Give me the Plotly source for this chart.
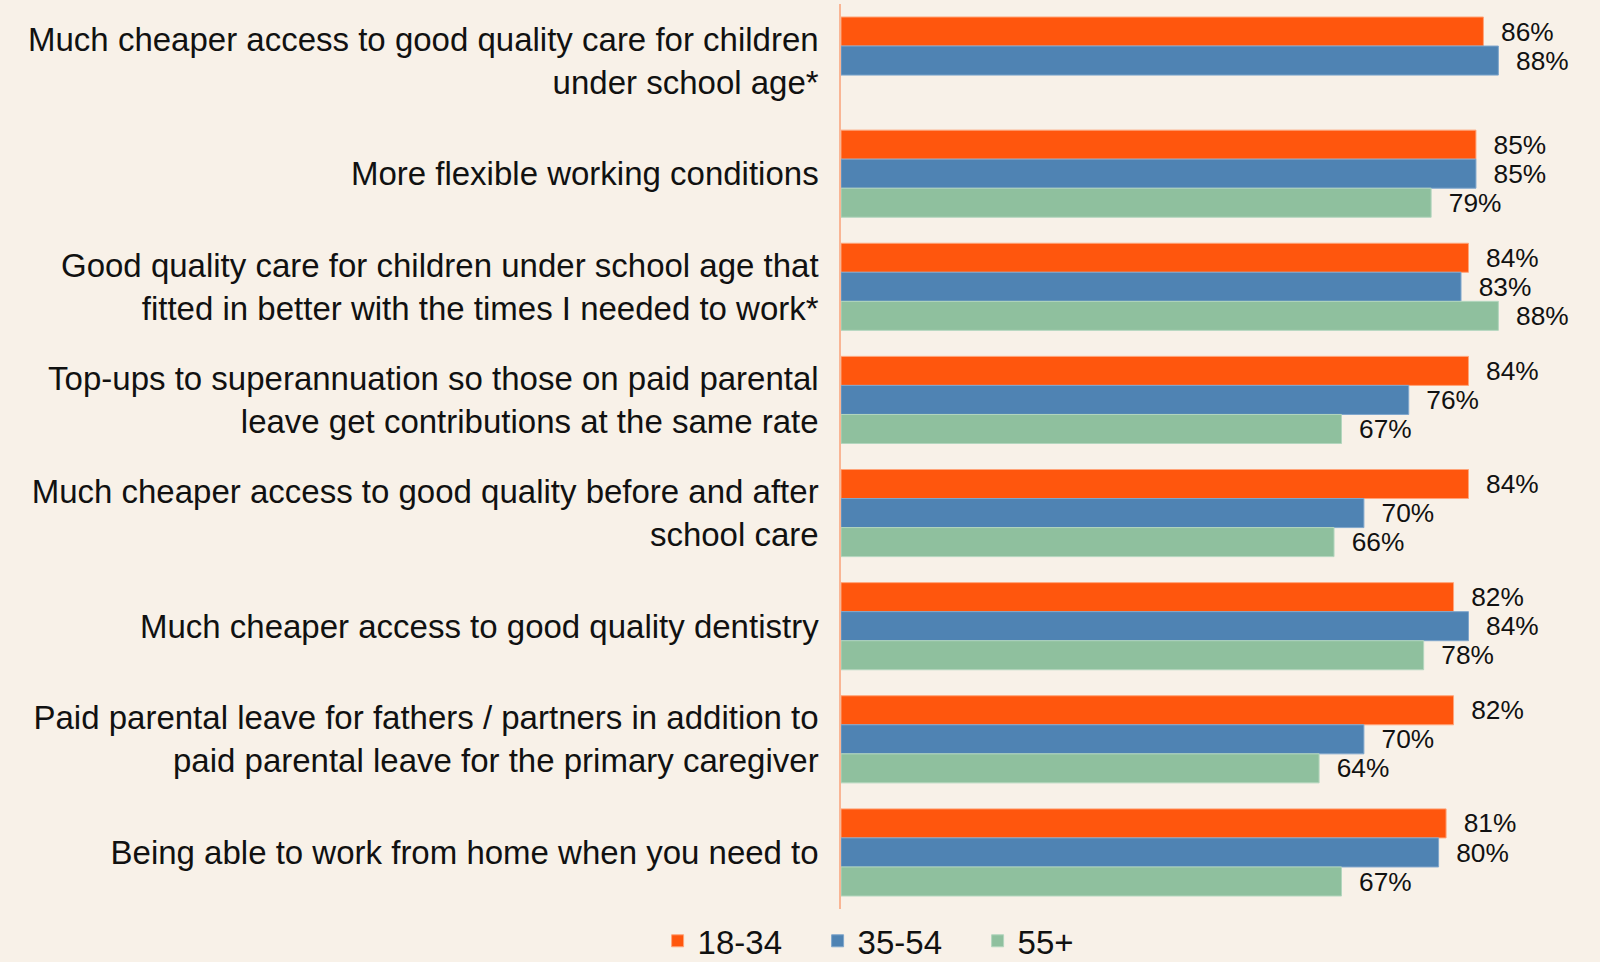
import plotly.graph_objects as go

categories = [
    "Much cheaper access to good quality care for children<br>under school age*",
    "More flexible working conditions",
    "Good quality care for children under school age that<br>fitted in better with the times I needed to work*",
    "Top-ups to superannuation so those on paid parental<br>leave get contributions at the same rate",
    "Much cheaper access to good quality before and after<br>school care",
    "Much cheaper access to good quality dentistry",
    "Paid parental leave for fathers / partners in addition to<br>paid parental leave for the primary caregiver",
    "Being able to work from home when you need to",
]
series_names = ["18-34", "35-54", "55+"]
v_18_34 = [86, 85, 84, 84, 84, 82, 82, 81]
v_35_54 = [88, 85, 83, 76, 70, 84, 70, 80]
v_55p = [None, 79, 88, 67, 66, 78, 64, 67]
values = [v_18_34, v_35_54, v_55p]
colors = ["#FF560D", "#4F83B3", "#8FC09E"]
line_colors = ["#FFA479", "#7FA6CC", "#B3D6BE"]

FONT = "Liberation Sans, Arial, sans-serif"

fig = go.Figure()
for name, vals, c, lc in zip(series_names, values, colors, line_colors):
    fig.add_trace(go.Bar(
        y=categories, x=vals, name=name, orientation="h",
        marker=dict(color=c, line=dict(color=lc, width=1)),
        text=[None if v is None else f"  {v}%" for v in vals],
        textposition="outside", cliponaxis=False,
        textfont=dict(family=FONT, size=29, color="#111111"),
    ))

fig.update_layout(
    width=1600, height=962,
    paper_bgcolor="#F8F1E8", plot_bgcolor="#F8F1E8",
    barmode="group", bargap=0.23, bargroupgap=0,
    margin=dict(l=841, r=12, t=4, b=53),
    font=dict(family=FONT, color="#111111"),
    xaxis=dict(range=[0, 100], visible=False, fixedrange=True),
    yaxis=dict(autorange="reversed", showline=True, linecolor="#F9B594", linewidth=1.5,
               tickfont=dict(family=FONT, size=33, color="#111111"),
               ticks="", ticklabelstandoff=14, showgrid=False, fixedrange=True),
    legend=dict(orientation="h", xref="container", yref="container",
                x=0.411, y=0.022, xanchor="left", yanchor="middle",
                font=dict(family=FONT, size=33, color="#111111"),
                itemwidth=30, tracegroupgap=0, entrywidth=115),
    showlegend=True,
)
fig.write_html("out.html", config={"displayModeBar": False},
               post_script="document.body.style.margin='0';document.body.style.overflow='hidden';")
